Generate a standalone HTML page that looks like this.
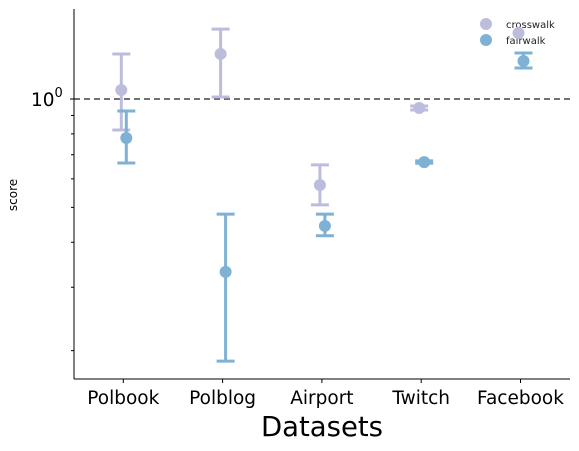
<!DOCTYPE html>
<html><head><meta charset="utf-8"><style>
body{margin:0;background:#fff}
svg{display:block;font-family:"DejaVu Sans","Liberation Sans",sans-serif}
</style></head><body>
<svg id="chart" width="579" height="451" viewBox="0 0 579 451" xmlns="http://www.w3.org/2000/svg">
<rect width="579" height="451" fill="#fff"/>
<line x1="74" y1="99" x2="570" y2="99" stroke="#444" stroke-width="1.6" stroke-dasharray="6,4"/>
<g>
<circle cx="486" cy="24" r="6" fill="#bcbddc"/>
<text x="506" y="28" font-size="10" fill="#222">crosswalk</text>
<circle cx="486" cy="40" r="6" fill="#7fb1d4"/>
<text x="506" y="44" font-size="10" fill="#222">fairwalk</text>
</g>
<g id="marks"></g>
<line x1="74" y1="9" x2="74" y2="379" stroke="#000" stroke-width="1"/>
<line x1="74" y1="379" x2="570" y2="379" stroke="#000" stroke-width="1"/>
<g id="ticks"></g>
<text x="17" y="195" font-size="12" text-anchor="middle" transform="rotate(-90 17 195)">score</text>
<text x="322" y="436" font-size="27.5" text-anchor="middle">Datasets</text>
</svg>
<script>
const categories=["Polbook","Polblog","Airport","Twitch","Facebook"];
const crossMean=[1.059,1.334,0.577,0.944,1.525];
const crossLow=[0.820,1.013,0.508,0.932,1.525];
const crossHigh=[1.334,1.564,0.656,0.956,1.525];
const fairMean=[0.779,0.331,0.444,0.668,1.275];
const fairLow=[0.664,0.187,0.417,0.663,1.219];
const fairHigh=[0.926,0.479,0.479,0.673,1.342];
const minorTicks=[0.2,0.3,0.4,0.5,0.6,0.7,0.8,0.9];
const majorTicks=[1];

const NS="http://www.w3.org/2000/svg";
function y(v){return 99-360*Math.log10(v);}
function x(i){return 123.3+i*99.3;}
function mk(tag,attrs,parent){const e=document.createElementNS(NS,tag);for(const k in attrs)e.setAttribute(k,attrs[k]);parent.appendChild(e);return e;}
const marks=document.getElementById('marks'),ticks=document.getElementById('ticks');

function series(name,mean,low,high,color,off){
  const g=mk('g',{},marks);
  
  
  mean.forEach((m,i)=>{
    const cx=x(i)+off;
    const l=mk('line',{x1:cx,x2:cx,y1:y(low[i]),y2:y(high[i]),stroke:color,'stroke-width':3},g);
    
    
    if(high[i]>low[i]){
      [low[i],high[i]].forEach(v=>{
        const c=mk('line',{x1:cx-9,x2:cx+9,y1:y(v),y2:y(v),stroke:color,'stroke-width':3},g);
        
        
      });
    }
    const p=mk('circle',{cx:cx,cy:y(m),r:6,fill:color},g);
    
    
  });
}
series('crosswalk',crossMean,crossLow,crossHigh,'#bcbddc',-2);
series('fairwalk',fairMean,fairLow,fairHigh,'#7fb1d4',3);

categories.forEach((c,i)=>{
  const t=mk('line',{x1:x(i),x2:x(i),y1:379,y2:383,stroke:'#000'},ticks);
  
  
  const tx=mk('text',{x:x(i),y:404,'font-size':18.5,'text-anchor':'middle'},ticks);
  tx.textContent=c;
  
  
});
minorTicks.forEach(v=>{
  const t=mk('line',{x1:71,x2:74,y1:y(v),y2:y(v),stroke:'#000'},ticks);
  
  
});
majorTicks.forEach(v=>{
  const t=mk('line',{x1:70,x2:74,y1:y(v),y2:y(v),stroke:'#000'},ticks);
  
  
  const tx=mk('text',{x:31,y:y(v)+7,'font-size':18.5},ticks);
  
  
  tx.textContent='10';
  const s=mk('tspan',{dy:-9,'font-size':13},tx);
  s.textContent='0';
});
</script>
</body></html>
